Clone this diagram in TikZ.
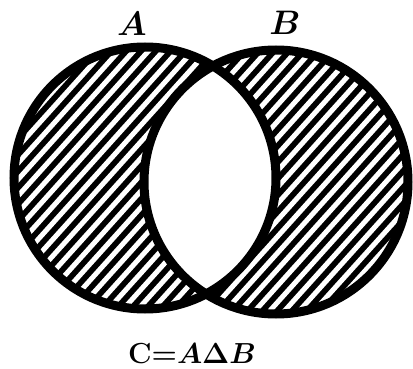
\RequirePackage{fix-cm}
\documentclass[tikz,border=0pt]{standalone}
\begin{document}
\begin{tikzpicture}[x=1pt,y=-1pt,
  ring/.style={draw=black,line width=9pt},
  hatchline/.style={white,line width=5pt},
  lbl/.style={inner sep=0pt,font=\fontsize{34}{34}\selectfont\boldmath}]
\useasboundingbox[fill=white] (0,0) rectangle (413,369);
\coordinate (ca) at (145,178);
\coordinate (cb) at (276,182);
% black symmetric difference
\fill[black,even odd rule] (ca) circle[radius=131pt] (cb) circle[radius=132pt];
% white hatching
\begin{scope}
  \clip (ca) circle[radius=131pt] (cb) circle[radius=132pt];
  \foreach \i in {-32,...,32}
    \draw[hatchline] (210,180) ++({\i*11*sin(48)},{\i*11*cos(48)})
      ++({-280*cos(48)},{280*sin(48)}) -- ++({560*cos(48)},{-560*sin(48)});
\end{scope}
% outlines
\draw[ring] (ca) circle[radius=131pt];
\draw[ring] (cb) circle[radius=132pt];
% labels
\node[lbl] (la) at (132,24) {$A$};
\node[lbl] (lb) at (285,23) {$B$};
\node[lbl,font=\fontsize{29}{29}\selectfont\boldmath] (lc) at (192,354) {$\mathbf{C}{=}A\Delta B$};
\end{tikzpicture}
\end{document}
